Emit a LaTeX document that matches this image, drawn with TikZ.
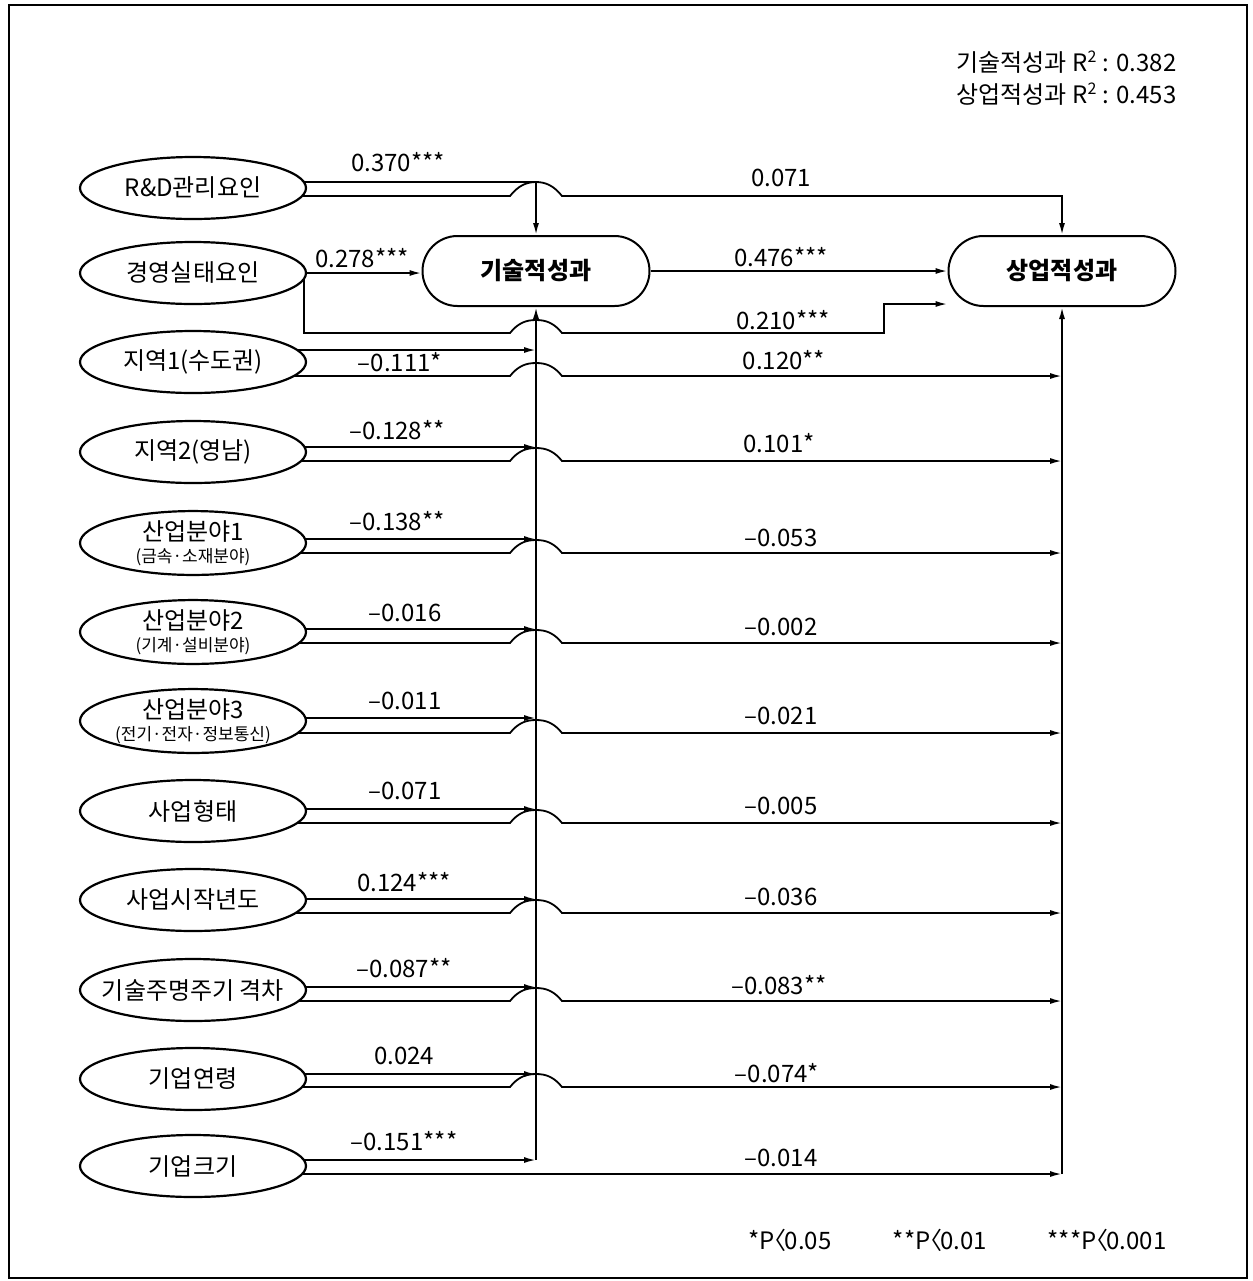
\documentclass[tikz,border=0pt]{standalone}
\usepackage{fontspec}
\setmainfont{Noto Sans CJK KR}
\usetikzlibrary{arrows.meta,calc,shapes.geometric}
\pgfdeclarelayer{bg}
\pgfsetlayers{bg,main}
\newcommand{\ltsign}{\kern-6pt〈\kern-1pt}
\begin{document}
\begin{tikzpicture}[x=0.5pt,y=-0.5pt,
  exo/.style={ellipse,draw,line width=1.1pt,fill=white,minimum width=113pt,minimum height=31pt,inner sep=0pt,font=\fontsize{12}{13}\selectfont,align=center},
  endo/.style={draw,line width=1pt,fill=white,rounded corners=17.5pt,minimum width=113.5pt,minimum height=35pt,inner sep=0pt,font=\bfseries\fontsize{12}{13}\selectfont},
  con/.style={line width=0.9pt},
  arr/.style={con,-{Latex[length=6pt,width=3pt]}},
  lbl/.style={font=\fontsize{12}{13}\selectfont,inner sep=0pt}
]
\useasboundingbox (0,0) rectangle (1253,1281);
\draw[line width=1.2pt] (9,5) rectangle (1247,1278);

% endogenous
\node[endo] (t) at (536,271) {기술적성과};
\node[endo] (c) at (1062,271) {상업적성과};
\coordinate (b1) at (t.south);
\coordinate (b2) at (c.south);

% exogenous
\node[exo] (e1) at (193,188) {R\&D관리요인};
\node[exo] (e2) at (193,273) {경영실태요인};
\node[exo] (e3) at (193,362) {지역1(수도권)};
\node[exo] (e4) at (193,452) {지역2(영남)};
\node[exo] (e5) at (193,543) {산업분야1\\[-2pt]{\fontsize{8.5}{9}\selectfont(금속·소재분야)}};
\node[exo] (e6) at (193,632) {산업분야2\\[-2pt]{\fontsize{8.5}{9}\selectfont(기계·설비분야)}};
\node[exo] (e7) at (193,721) {산업분야3\\[-2pt]{\fontsize{8.5}{9}\selectfont(전기·전자·정보통신)}};
\node[exo] (e8) at (193,811) {사업형태};
\node[exo] (e9) at (193,900) {사업시작년도};
\node[exo] (e10) at (193,990) {\makebox[0pt]{기술주명주기 격차}};
\node[exo] (e11) at (193,1079) {기업연령};
\node[exo] (e12) at (193,1166) {기업크기};

\begin{pgfonlayer}{bg}
% R&D
\coordinate (u1) at ($(e1.center)+(0,-6)$);
\coordinate (l1) at ($(e1.center)+(0,8)$);
\coordinate (h1) at (b1|-l1);
\draw[arr] (u1) -- (b1|-u1) -- (t.north);
\draw[arr] (l1) -- ($(h1)+(-26,0)$) .. controls ($(h1)+(-18,-10)$) and ($(h1)+(-10,-14)$) .. ($(h1)+(0,-14)$) .. controls ($(h1)+(10,-14)$) and ($(h1)+(18,-10)$) .. ($(h1)+(26,0)$) -- (b2|-l1) -- (c.north);
% 경영실태
\draw[arr] (e2.east) -- (e2.east -| t.west);
\coordinate (m0) at ($(e2.center)+(111,6)$);
\coordinate (m1) at ($(e2.center)+(111,60)$);
\coordinate (hm) at (b1|-m1);
\coordinate (stp) at (884,0);
\coordinate (cw) at ($(c.west)+(0,33)$);
\draw[arr] (m0) -- (m1) -- ($(hm)+(-26,0)$) .. controls ($(hm)+(-18,-10)$) and ($(hm)+(-10,-13)$) .. ($(hm)+(0,-13)$) .. controls ($(hm)+(10,-13)$) and ($(hm)+(18,-10)$) .. ($(hm)+(26,0)$) -- (stp|-m1) -- (stp|-cw) -- (cw);
\draw[arr] (t.east) -- (c.west);
% other rows
\foreach \n/\a/\b in {3/-12/14,4/-5/9,5/-4/10,6/-3/11,7/-3/12,8/-2/12,9/-1/13,10/-3/11,11/-5/8}{
  \coordinate (u\n) at ($(e\n.center)+(0,\a)$);
  \coordinate (l\n) at ($(e\n.center)+(0,\b)$);
  \coordinate (h\n) at (b1|-l\n);
  \draw[arr] (u\n) -- (b1|-u\n);
  \draw[arr] (l\n) -- ($(h\n)+(-26,0)$) .. controls ($(h\n)+(-18,-10)$) and ($(h\n)+(-10,-13)$) .. ($(h\n)+(0,-13)$) .. controls ($(h\n)+(10,-13)$) and ($(h\n)+(18,-10)$) .. ($(h\n)+(26,0)$) -- (b2|-l\n);
}
\coordinate (u12) at ($(e12.center)+(0,-6)$);
\coordinate (l12) at ($(e12.center)+(0,8)$);
\draw[arr] (u12) -- (b1|-u12);
\draw[arr] (l12) -- (b2|-l12);
% buses
\draw[arr] (b1|-u12) -- (t.south);
\draw[arr] (b2|-l12) -- (c.south);
\end{pgfonlayer}

% path labels
\node[lbl] (n1) at (398,162) {0.370***};
\node[lbl] (n2) at (781,178) {0.071};
\node[lbl] (n3) at (362,258) {0.278***};
\node[lbl] (n4) at (781,257) {0.476***};
\node[lbl] (n5) at (783,320) {0.210***};
\node[lbl] (n6) at (400,362) {–0.111*};
\node[lbl] (n7) at (784,360) {0.120**};
\node[lbl] (n8) at (397,430) {–0.128**};
\node[lbl] (n9) at (779,443) {0.101*};
\node[lbl] (n10) at (397,521) {–0.138**};
\node[lbl] (n11) at (781,538) {–0.053};
\node[lbl] (n12) at (405,613) {–0.016};
\node[lbl] (n13) at (781,627) {–0.002};
\node[lbl] (n14) at (405,701) {–0.011};
\node[lbl] (n15) at (781,716) {–0.021};
\node[lbl] (n16) at (405,791) {–0.071};
\node[lbl] (n17) at (781,806) {–0.005};
\node[lbl] (n18) at (404,882) {0.124***};
\node[lbl] (n19) at (781,897) {–0.036};
\node[lbl] (n20) at (404,968) {–0.087**};
\node[lbl] (n21) at (779,985) {–0.083**};
\node[lbl] (n22) at (404,1056) {0.024};
\node[lbl] (n23) at (777,1073) {–0.074*};
\node[lbl] (n24) at (404,1141) {–0.151***};
\node[lbl] (n25) at (781,1158) {–0.014};

% R squared
\node[lbl,anchor=east] (r1) at (1177,62) {기술적성과 R\textsuperscript{2} : 0.382};
\node[lbl,anchor=east] (r2) at (1177,94) {상업적성과 R\textsuperscript{2} : 0.453};

% legend
\node[lbl] (p1) at (790,1240) {*P\ltsign0.05};
\node[lbl] (p2) at (940,1240) {**P\ltsign0.01};
\node[lbl] (p3) at (1107,1240) {***P\ltsign0.001};
\end{tikzpicture}
\end{document}
